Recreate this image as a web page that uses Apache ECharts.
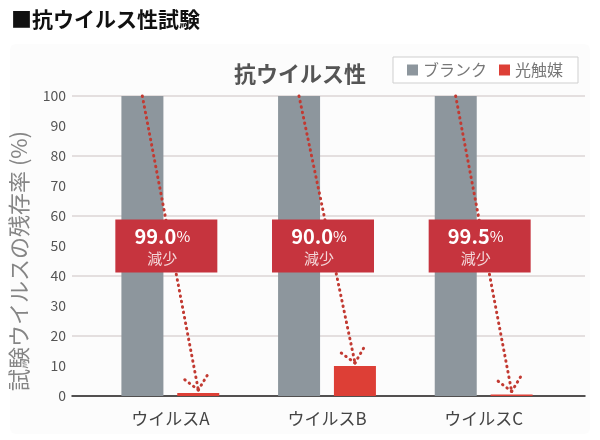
<!DOCTYPE html>
<html><head><meta charset="utf-8">
<script src="https://cdn.jsdelivr.net/npm/echarts@6/dist/echarts.min.js"></script>
<style>html,body{margin:0;padding:0;background:#fff;}#c{width:600px;height:440px;}</style>
</head><body><div id="c"></div>
<script>
var categories = ['ウイルスA', 'ウイルスB', 'ウイルスC'];
var blankValues = [100, 100, 100];
var photoValues = [1.0, 10.0, 0.5];
var reductions = ['99.0', '90.0', '99.5'];
var boxLevel = [50, 50, 50];
var yTicks = [0, 10, 20, 30, 40, 50, 60, 70, 80, 90, 100];

var FONT = '"Noto Sans CJK JP", "Noto Sans", sans-serif';
var BAR_W = 42, HALF = 28;

var chart = echarts.init(document.getElementById('c'), null, {renderer: 'canvas'});
var option = {
  backgroundColor: '#ffffff',
  animation: false,
  textStyle: {fontFamily: FONT},
  graphic: [
    {type: 'rect', left: 10, top: 44, shape: {width: 580, height: 390, r: 6}, style: {fill: '#fcfcfc'}, z: -10, silent: true},
    {type: 'text', left: 11, top: 9, style: {text: '■抗ウイルス性試験', fill: '#111', font: 'bold 21px ' + FONT}},
    {type: 'text', x: 19, y: 261, rotation: Math.PI / 2, silent: true,
     style: {text: '試験ウイルスの残存率 (%)', fill: '#858585', font: '22px ' + FONT, align: 'center', verticalAlign: 'middle'}}
  ],
  title: {
    text: '抗ウイルス性', left: 229, top: 58,
    textStyle: {fontSize: 22, fontWeight: 'bold', color: '#555', fontFamily: FONT}
  },
  legend: {
    data: ['ブランク', '光触媒'], left: 393, top: 57,
    padding: [5, 15, 5, 14], itemGap: 12, itemWidth: 11, itemHeight: 11,
    borderColor: '#cfcfcf', borderWidth: 1, backgroundColor: '#fff',
    icon: 'rect',
    textStyle: {fontSize: 16, color: '#777', fontFamily: FONT}
  },
  grid: [
    {left: 72, right: 15, top: 96, bottom: 44},
    {left: 92, right: 38, top: 96, bottom: 44}
  ],
  xAxis: [
    {gridIndex: 0, type: 'value', min: 0, max: 1, axisLabel: {show: false}, axisTick: {show: false}, splitLine: {show: false},
     axisLine: {show: true, lineStyle: {color: '#222', width: 1.5}}},
    {gridIndex: 1, type: 'category', data: categories, axisLine: {show: false}, axisTick: {show: false},
     axisLabel: {fontSize: 17, color: '#444', margin: 14, fontFamily: FONT}}
  ],
  yAxis: [
    {gridIndex: 0, type: 'value', min: 0, max: 100, interval: 20, axisLabel: {show: false}, axisLine: {show: false}, axisTick: {show: false},
     splitLine: {lineStyle: {color: '#dcd6d6', width: 1.5}}},
    {gridIndex: 1, type: 'value', min: yTicks[0], max: yTicks[yTicks.length - 1], interval: 10,
     axisLine: {show: false}, axisTick: {show: false}, splitLine: {show: false},
     axisLabel: {fontSize: 14, color: '#555', margin: 26, fontFamily: FONT}}
  ],
  series: [
    {name: 'ブランク', type: 'bar', xAxisIndex: 1, yAxisIndex: 1, data: blankValues, barWidth: BAR_W, barGap: '33%',
     itemStyle: {color: '#8d969d'}, z: 2},
    {name: '光触媒', type: 'bar', xAxisIndex: 1, yAxisIndex: 1, data: photoValues, barWidth: BAR_W, barGap: '33%',
     itemStyle: {color: '#dd3f36'}, z: 2},
    {type: 'custom', xAxisIndex: 1, yAxisIndex: 1, z: 3, silent: true,
     data: categories.map(function (c, i) { return [i, blankValues[i], photoValues[i]]; }),
     renderItem: function (params, api) {
       var i = api.value(0);
       var s = api.coord([i, api.value(1)]);
       var e = api.coord([i, api.value(2)]);
       var x1 = s[0] - HALF, y1 = s[1];
       var x2 = e[0] + HALF, y2 = e[1] - 3;
       var dx = x2 - x1, dy = y2 - y1, L = Math.sqrt(dx * dx + dy * dy);
       var ux = dx / L, uy = dy / L;
       var wl = 20, ang = 42 * Math.PI / 180;
       function wing(sign) {
         var c = Math.cos(sign * ang), sn = Math.sin(sign * ang);
         var bx = -ux, by = -uy;
         var rx = bx * c - by * sn, ry = bx * sn + by * c;
         return [x2 + rx * wl, y2 + ry * wl];
       }
       var w1 = wing(1), w2 = wing(-1);
       var st = {stroke: '#c23a32', lineWidth: 3, lineDash: [0.5, 5], lineCap: 'round', fill: null};
       return {type: 'group', children: [
         {type: 'line', shape: {x1: x1, y1: y1, x2: x2, y2: y2}, style: st},
         {type: 'line', shape: {x1: x2, y1: y2, x2: w1[0], y2: w1[1]}, style: st},
         {type: 'line', shape: {x1: x2, y1: y2, x2: w2[0], y2: w2[1]}, style: st}
       ]};
     }
    },
    {type: 'scatter', xAxisIndex: 1, yAxisIndex: 1, z: 5, silent: true,
     data: categories.map(function (c, i) { return [c, boxLevel[i], reductions[i]]; }),
     symbol: 'rect', symbolSize: [102, 53], symbolOffset: [-4, 0],
     itemStyle: {color: '#c6343e', opacity: 1},
     label: {show: true, position: 'inside', offset: [-4, -10],
       formatter: function (p) { return '{a|' + p.value[2] + '}{b|%}'; },
       rich: {
         a: {fontSize: 20, fontWeight: 'bold', color: '#fff', fontFamily: FONT},
         b: {fontSize: 15, color: '#fff', fontFamily: FONT}
       }}
    },
    {type: 'scatter', xAxisIndex: 1, yAxisIndex: 1, z: 6, silent: true,
     data: categories.map(function (c, i) { return [c, boxLevel[i]]; }),
     symbol: 'rect', symbolSize: [102, 53], symbolOffset: [-4, 0],
     itemStyle: {color: 'rgba(0,0,0,0)'},
     label: {show: true, position: 'inside', offset: [-4, 12], formatter: '減少',
       fontSize: 15, color: '#fff', fontFamily: FONT}
    }
  ]
};
chart.setOption(option);
</script></body></html>
